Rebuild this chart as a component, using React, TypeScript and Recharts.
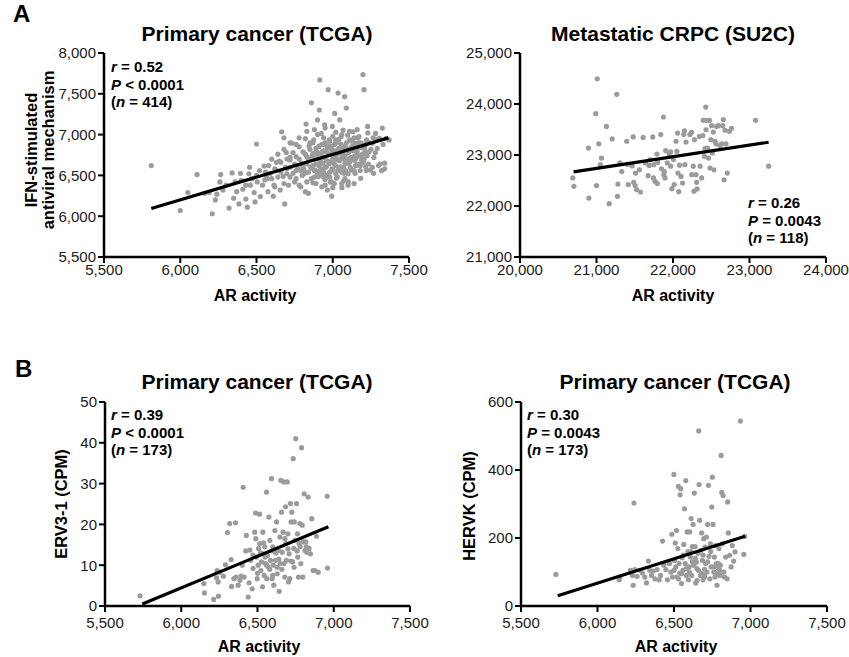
import { Scatter, ScatterChart, XAxis, YAxis } from "recharts";

// ---- panel A, left: TCGA, AR activity vs IFN-stimulated antiviral mechanism
const IFN_TCGA: [number, number][] = [
  [5810, 6620], [6000, 6070], [6050, 6290], [6110, 6510], [6210, 6030], [6190, 6290], [6240, 6270], [6260, 6420],
  [6265, 6510], [6320, 6100], [6340, 6530], [6360, 6420], [6385, 6150], [6395, 6525], [6410, 6330], [6430, 6210],
  [6440, 6110], [6455, 6600], [6460, 6380], [6485, 6290], [6490, 6175], [6500, 6885], [6505, 6420], [6525, 6240],
  [6550, 6615], [6555, 6445], [6565, 6485], [6575, 6300], [6590, 6525], [6610, 6245], [6615, 6380], [6630, 6565],
  [6650, 6675], [6655, 6320], [6665, 7035], [6675, 6485], [6685, 6150], [6695, 6780], [6700, 6585], [6710, 6380],
  [6720, 6690], [6730, 6895], [6740, 6525], [6750, 6420], [6760, 6730], [6770, 6585], [6780, 6850], [6790, 6360],
  [6795, 6650], [6805, 6790], [6815, 6525], [6825, 7130], [6830, 6730], [6840, 6280], [6845, 6860], [6855, 6605],
  [6860, 7390], [6865, 6740], [6870, 6410], [6875, 6935], [6885, 6565], [6895, 6790], [6900, 7180], [6905, 6485],
  [6910, 6855], [6912, 7300], [6915, 7670], [6920, 6650], [6925, 7015], [6928, 6360], [6932, 6730], [6936, 6485],
  [6940, 6875], [6947, 7120], [6954, 6605], [6958, 6790], [6965, 6320], [6970, 7550], [6976, 6935], [6980, 6670],
  [6984, 6420], [6990, 6855], [6993, 6245], [6997, 7100], [7002, 6565], [7008, 6770], [7013, 7260], [7019, 6935],
  [7024, 6465], [7028, 6690], [7035, 7510], [7039, 6830], [7046, 7180], [7050, 6605], [7054, 6975], [7059, 6400],
  [7063, 6750], [7068, 7055], [7074, 6525], [7078, 7465], [7083, 6855], [7089, 7325], [7094, 6650], [7098, 6995],
  [7102, 6420], [7107, 6790], [7111, 6935], [7118, 6690], [7122, 6565], [7128, 6855], [7133, 7035], [7139, 6730],
  [7146, 6525], [7150, 6895], [7159, 6770], [7166, 6625], [7172, 6975], [7177, 6855], [7183, 6465], [7190, 6690],
  [7198, 7735], [7205, 7550], [7209, 6830], [7216, 6605], [7222, 6935], [7229, 7100], [7238, 6790], [7246, 6565],
  [7260, 6895], [7268, 6525], [7281, 7015], [7292, 6830], [7307, 6955], [7325, 7080], [7340, 6650], [7350, 6955],
  [7369, 6935], [6780, 6700], [6800, 6620], [6820, 6760], [6840, 6680], [6850, 6820], [6860, 6590], [6870, 6900],
  [6880, 6710], [6890, 6640], [6900, 6760], [6910, 6860], [6920, 6700], [6930, 6580], [6940, 6800], [6950, 6900],
  [6960, 6680], [6970, 6760], [6980, 6540], [6990, 6820], [7000, 6700], [7010, 6880], [7020, 6620], [7030, 6760],
  [7040, 6940], [7050, 6700], [7060, 6820], [7070, 6600], [7080, 6740], [7090, 6900], [7100, 6780], [7110, 6660],
  [7120, 6840], [7130, 6720], [7140, 6960], [7150, 6620], [7160, 6800], [7170, 6900], [7180, 6740], [7190, 6840],
  [7200, 6660], [6950, 6450], [6990, 6420], [7030, 6480], [7070, 6430], [7000, 6350], [6960, 6500], [6920, 6520],
  [6880, 6480], [6840, 6540], [6800, 6500], [6760, 6460], [6720, 6600], [6700, 6520], [6740, 6780], [6700, 6700],
  [6660, 6660], [6620, 6580], [6600, 6460], [6560, 6540], [6540, 6380], [6640, 6760], [6680, 6820], [6760, 6880],
  [6820, 6950], [6900, 7000], [6940, 6960], [6980, 6920], [7020, 7030], [6870, 6620], [6910, 6620], [6930, 6880],
  [6970, 6860], [7010, 6800], [7040, 6580], [7080, 6650], [7120, 6720], [7160, 6880], [7210, 6780], [7240, 6900],
  [7270, 6720], [7300, 6620], [7320, 6560], [7340, 6580], [7220, 6560], [7180, 6560], [7140, 6400], [7100, 6380],
  [7060, 6350], [6780, 6380], [6820, 6300], [6760, 6560], [6720, 6480], [6680, 6400], [6640, 6480],
  [6810, 6580], [6830, 6640], [6850, 6700], [6870, 6770], [6890, 6830], [6905, 6700], [6915, 6560], [6925, 6780],
  [6935, 6650], [6945, 6720], [6955, 6600], [6965, 6840], [6975, 6640], [6985, 6760], [6995, 6580], [7005, 6650],
  [7015, 6720], [7025, 6900], [7035, 6560], [7045, 6680], [7055, 6880], [7065, 6780], [7075, 6700], [7085, 6560],
  [7095, 6820], [7105, 6700], [7115, 6600], [7125, 6920], [7135, 6800], [7145, 6680], [7155, 6720], [7165, 6960],
  [7175, 6640], [7185, 6900], [7195, 6760], [7205, 6700], [7215, 6880], [7225, 6740], [7235, 6640], [7250, 6820],
  [7265, 6960], [7280, 6780], [6850, 6900], [6880, 6560], [6900, 6520], [6940, 6540], [6980, 6480], [7020, 6520],
  [7060, 6540], [7100, 6520], [7140, 6560], [7180, 6620], [6950, 6380], [7010, 6400], [7080, 6460], [6890, 6400],
  [6860, 6460], [6830, 6420], [6790, 6560], [6750, 6640], [6720, 6720], [6690, 6600], [6660, 6540], [6630, 6660],
  [6600, 6700], [6580, 6620], [6520, 6560], [6500, 6500], [6470, 6460], [6450, 6520], [6430, 6380], [6400, 6440],
  [6370, 6300], [6350, 6220], [6300, 6380], [6280, 6320], [6230, 6200], [6160, 6280], [6620, 6360], [6570, 6460],
  [6680, 6960], [6720, 6900], [6780, 6960], [6830, 7040], [6880, 7060], [6950, 7080], [7000, 6980], [7060, 7000],
  [7110, 7040], [7160, 7060], [7230, 7020], [7290, 6940], [7330, 6880], [7310, 6640], [7260, 6600],
];
const IFN_TCGA_FIT: [number, number][] = [[5810, 6095], [7365, 6960]];

// ---- panel A, right: SU2C metastatic CRPC
const IFN_SU2C: [number, number][] = [
  [20690, 22550], [20705, 22385], [20895, 23135], [20900, 22155], [20990, 23810], [21010, 24495], [21030, 23220],
  [21000, 22400], [21065, 22940], [21050, 22810], [21130, 23560], [21165, 22045], [21205, 23315], [21265, 24190],
  [21280, 22430], [21275, 22190], [21305, 22845], [21330, 22675], [21395, 23270], [21405, 22815], [21415, 22420],
  [21465, 22785], [21485, 22465], [21505, 22400], [21510, 22645], [21480, 23355], [21525, 22320], [21575, 22275],
  [21560, 22710], [21610, 23345], [21640, 22845], [21675, 22595], [21690, 22795], [21700, 22910], [21735, 23355],
  [21745, 22550], [21750, 22810], [21765, 22485], [21790, 23020], [21800, 22855], [21795, 22440], [21840, 23400],
  [21850, 22730], [21875, 23745], [21880, 22615], [21895, 22550], [21885, 22680], [21905, 23085], [21925, 22845],
  [21950, 23020], [21970, 22780], [21968, 23060], [21985, 22340], [22005, 22910], [22015, 22420], [22040, 23270],
  [22050, 23070], [22060, 23430], [22065, 22645], [22075, 22280], [22085, 22800], [22105, 22580], [22125, 22450],
  [22140, 23400], [22150, 23475], [22155, 22810], [22170, 23255], [22220, 23400], [22245, 22615], [22242, 23445],
  [22265, 22780], [22275, 22290], [22280, 23300], [22300, 22615], [22310, 22465], [22315, 22335], [22345, 23365],
  [22355, 22780], [22375, 22550], [22390, 23380], [22395, 23680], [22410, 22975], [22420, 23130], [22428, 23940],
  [22432, 23495], [22440, 23680], [22452, 23135], [22465, 22940], [22478, 23680], [22483, 22745], [22495, 23300],
  [22505, 23575], [22515, 23040], [22527, 23450], [22535, 22710], [22550, 23270], [22562, 23220], [22570, 23560],
  [22592, 23575], [22615, 23185], [22636, 23220], [22650, 23575], [22658, 23695], [22668, 22515], [22680, 23485],
  [22693, 23220], [22710, 22645], [22736, 23465], [22765, 23525], [23080, 23680], [23250, 22780],
];
const IFN_SU2C_FIT: [number, number][] = [[20700, 22670], [23250, 23250]];

// ---- panel B, left: ERV3-1
const ERV3: [number, number][] = [
  [5730, 2.5], [6148, 5.5], [6152, 3.2], [6213, 1.6], [6244, 2.4], [6231, 6.9], [6242, 5.9], [6235, 8.7],
  [6252, 8.3], [6276, 7.3], [6303, 18.0], [6318, 20.2], [6356, 20.4], [6290, 10.1], [6327, 11.4], [6330, 4.8],
  [6345, 6.7], [6359, 7.1], [6373, 5.1], [6385, 6.3], [6392, 7.3], [6406, 29.1], [6412, 7.1], [6423, 13.5],
  [6427, 17.3], [6439, 2.2], [6445, 5.7], [6456, 11.2], [6465, 4.2], [6471, 9.2], [6482, 18.1], [6487, 22.8],
  [6489, 16.5], [6493, 12.0], [6498, 6.7], [6504, 10.0], [6507, 14.1], [6513, 22.5], [6515, 15.3], [6522, 8.7],
  [6526, 10.8], [6533, 4.7], [6535, 18.1], [6537, 12.8], [6544, 7.5], [6548, 14.5], [6553, 10.4], [6559, 27.9],
  [6561, 6.7], [6566, 12.4], [6570, 9.6], [6575, 21.8], [6581, 16.1], [6585, 11.2], [6592, 31.2], [6596, 6.7],
  [6598, 13.5], [6603, 10.0], [6607, 5.1], [6614, 18.5], [6618, 11.2], [6625, 20.6], [6629, 7.9], [6636, 13.6],
  [6642, 3.6], [6647, 16.9], [6649, 10.4], [6653, 30.8], [6658, 23.0], [6662, 13.2], [6668, 18.1], [6672, 30.4],
  [6674, 10.4], [6679, 7.1], [6684, 24.3], [6686, 15.3], [6690, 11.2], [6695, 30.4], [6699, 17.7], [6703, 5.9],
  [6707, 12.8], [6712, 6.7], [6716, 25.1], [6720, 20.6], [6725, 23.0], [6730, 10.8], [6734, 36.1], [6738, 14.1],
  [6741, 20.6], [6747, 16.1], [6751, 41.0], [6756, 25.1], [6762, 17.7], [6764, 12.0], [6769, 7.1], [6773, 15.3],
  [6778, 20.2], [6784, 10.4], [6789, 38.8], [6793, 19.8], [6797, 7.1], [6800, 15.7], [6806, 27.5], [6811, 13.6],
  [6817, 15.7], [6823, 13.2], [6832, 26.7], [6838, 14.1], [6847, 12.8], [6856, 21.4], [6865, 8.7], [6876, 8.7],
  [6887, 17.1], [6898, 8.3], [6957, 26.9], [6959, 9.3], [6520, 13.0], [6550, 12.0], [6580, 9.0], [6600, 14.5],
  [6640, 11.5], [6660, 9.0], [6700, 14.0], [6720, 11.0], [6760, 13.5], [6780, 14.5], [6500, 8.0], [6470, 12.5],
  [6540, 15.5], [6620, 13.0], [6680, 16.5], [6740, 9.5], [6820, 14.5], [6450, 13.7], [6400, 10.0], [6560, 10.0],
  [6600, 7.5], [6630, 9.5],
];
const ERV3_FIT: [number, number][] = [[5745, 0.5], [6965, 19.4]];

// ---- panel B, right: HERVK
const HERVK: [number, number][] = [
  [5728, 93], [6238, 303], [6142, 77], [6146, 85], [6233, 61], [6215, 105], [6228, 90], [6244, 107],
  [6259, 87], [6277, 105], [6294, 97], [6309, 85], [6320, 68], [6333, 132], [6342, 105], [6353, 90],
  [6364, 103], [6375, 80], [6390, 107], [6403, 77], [6412, 90], [6425, 191], [6434, 120], [6447, 107],
  [6457, 77], [6470, 125], [6479, 100], [6486, 211], [6490, 85], [6499, 387], [6503, 134], [6508, 185],
  [6512, 115], [6516, 222], [6520, 85], [6525, 169], [6529, 352], [6533, 125], [6538, 97], [6540, 327],
  [6544, 345], [6549, 66], [6553, 142], [6559, 105], [6564, 181], [6568, 286], [6573, 125], [6577, 369],
  [6581, 90], [6586, 218], [6590, 159], [6594, 77], [6599, 115], [6603, 218], [6607, 144], [6612, 257],
  [6616, 90], [6620, 175], [6625, 240], [6629, 120], [6633, 332], [6638, 175], [6642, 68], [6646, 129],
  [6651, 75], [6662, 515], [6664, 357], [6657, 155], [6660, 105], [6668, 252], [6673, 90], [6677, 164],
  [6681, 215], [6686, 134], [6690, 77], [6694, 198], [6699, 85], [6703, 173], [6707, 125], [6712, 203],
  [6716, 100], [6720, 240], [6725, 355], [6729, 146], [6734, 80], [6738, 183], [6742, 115], [6747, 291],
  [6751, 379], [6755, 240], [6760, 115], [6764, 144], [6768, 85], [6773, 178], [6777, 125], [6781, 61],
  [6785, 113], [6790, 125], [6794, 169], [6799, 105], [6803, 120], [6808, 443], [6812, 334], [6816, 183],
  [6821, 325], [6825, 100], [6829, 85], [6838, 144], [6847, 80], [6851, 306], [6855, 215], [6864, 149],
  [6873, 115], [6881, 178], [6890, 132], [6899, 159], [6934, 544], [6956, 152], [6962, 205], [6500, 105],
  [6550, 95], [6600, 100], [6620, 130], [6650, 110], [6680, 95], [6700, 108], [6720, 130], [6760, 100],
  [6780, 95], [6800, 90], [6560, 150], [6610, 160], [6690, 150], [6740, 160], [6530, 80], [6580, 110],
  [6640, 140], [6700, 90],
];
const HERVK_FIT: [number, number][] = [[5740, 30], [6965, 205]];

const AR_TICKS = [5500, 6000, 6500, 7000, 7500];
const SU2C_X_TICKS = [20000, 21000, 22000, 23000, 24000];
const IFN_TCGA_Y_TICKS = [5500, 6000, 6500, 7000, 7500, 8000];
const IFN_SU2C_Y_TICKS = [21000, 22000, 23000, 24000, 25000];
const ERV3_Y_TICKS = [0, 10, 20, 30, 40, 50];
const HERVK_Y_TICKS = [0, 200, 400, 600];

const FONT = "Arial, 'Liberation Sans', Helvetica, sans-serif";
const fmt = (v: number) => v.toLocaleString("en-US");
const tick = { fontSize: 15, fill: "#1a1a1a", fontFamily: FONT };
const axisLine = { stroke: "#000", strokeWidth: 2.5 };
const tickLine = { stroke: "#000", strokeWidth: 2 };

const Dot = (p: any) => <circle cx={p.cx} cy={p.cy} r={2.6} fill="#9b9b9b" />;
const NoDot = () => <g />;

function Panel(props: {
  x0: number; x1: number; y0: number; y1: number; xGap: number;
  pts: [number, number][]; fit: [number, number][];
  xTicks: number[]; yTicks: number[];
}) {
  const { x0, x1, y0, y1, xGap, pts, fit, xTicks, yTicks } = props;
  const data = pts.map(([x, y]) => ({ x, y }));
  const line = fit.map(([x, y]) => ({ x, y }));
  const xd: [number, number] = [xTicks[0], xTicks[xTicks.length - 1]];
  const yd: [number, number] = [yTicks[0], yTicks[yTicks.length - 1]];
  return (
    <div style={{ position: "absolute", left: x0 - 70, top: y0 - 10 }}>
      <ScatterChart width={x1 - x0 + 100} height={y1 - y0 + 50} margin={{ top: 10, right: 30, bottom: 0, left: 10 }}>
        <XAxis type="number" dataKey="x" domain={xd} ticks={xTicks} interval={0} allowDataOverflow height={40}
          tickFormatter={fmt} tick={tick} tickSize={6} tickMargin={xGap} axisLine={axisLine} tickLine={tickLine} />
        <YAxis type="number" dataKey="y" domain={yd} ticks={yTicks} interval={0} allowDataOverflow width={60}
          tickFormatter={fmt} tick={tick} tickSize={6} axisLine={axisLine} tickLine={tickLine} />
        <Scatter data={data} shape={Dot} isAnimationActive={false} />
        <Scatter data={line} shape={NoDot} line={{ stroke: "#000", strokeWidth: 3.2 }} isAnimationActive={false} />
      </ScatterChart>
    </div>
  );
}

function Stats({ x, y, r, p, n }: { x: number; y: number; r: string; p: string; n: string }) {
  return (
    <text x={x} y={y} fontSize={15} fontWeight="bold" fill="#000" fontFamily={FONT}>
      <tspan x={x} fontStyle="italic">r</tspan><tspan> = {r}</tspan>
      <tspan x={x} dy={17.5} fontStyle="italic">P</tspan><tspan> {p}</tspan>
      <tspan x={x} dy={17.5}>(</tspan><tspan fontStyle="italic">n</tspan><tspan> = {n})</tspan>
    </text>
  );
}

export default function App() {
  const title = { fontSize: 21, fontWeight: "bold" as const, fontFamily: FONT, textAnchor: "middle" as const };
  const axTitle = { fontSize: 16, fontWeight: "bold" as const, fontFamily: FONT, textAnchor: "middle" as const };
  const yTitle = { ...axTitle, fontSize: 16.5 };
  return (
    <div style={{ position: "absolute", left: 0, top: 0, width: 849, height: 657, background: "#fff", overflow: "hidden" }}>
      <Panel x0={104} x1={409} y0={53} y1={257} xGap={1.5} pts={IFN_TCGA} fit={IFN_TCGA_FIT} xTicks={AR_TICKS} yTicks={IFN_TCGA_Y_TICKS} />
      <Panel x0={520} x1={826} y0={53} y1={257} xGap={1.5} pts={IFN_SU2C} fit={IFN_SU2C_FIT} xTicks={SU2C_X_TICKS} yTicks={IFN_SU2C_Y_TICKS} />
      <Panel x0={105} x1={410} y0={402} y1={606} xGap={5} pts={ERV3} fit={ERV3_FIT} xTicks={AR_TICKS} yTicks={ERV3_Y_TICKS} />
      <Panel x0={521} x1={827} y0={402} y1={606} xGap={5} pts={HERVK} fit={HERVK_FIT} xTicks={AR_TICKS} yTicks={HERVK_Y_TICKS} />
      <svg width={849} height={657} style={{ position: "absolute", left: 0, top: 0, pointerEvents: "none" }}>
        <text x={13} y={22} fontSize={24} fontWeight="bold" fontFamily={FONT}>A</text>
        <text x={15} y={377} fontSize={24} fontWeight="bold" fontFamily={FONT}>B</text>

        <text x={257} y={41} {...title}>Primary cancer (TCGA)</text>
        <text x={673} y={41} {...title}>Metastatic CRPC (SU2C)</text>
        <text x={257} y={389} {...title}>Primary cancer (TCGA)</text>
        <text x={675} y={389} {...title}>Primary cancer (TCGA)</text>

        <text x={255} y={301} {...axTitle}>AR activity</text>
        <text x={673} y={301} {...axTitle}>AR activity</text>
        <text x={259} y={652} {...axTitle}>AR activity</text>
        <text x={676} y={652} {...axTitle}>AR activity</text>

        <text transform="translate(37,150) rotate(-90)" {...yTitle}>IFN-stimulated</text>
        <text transform="translate(54,150) rotate(-90)" {...yTitle}>antiviral mechanism</text>
        <text transform="translate(67,504) rotate(-90)" {...yTitle}>ERV3-1 (CPM)</text>
        <text transform="translate(475,506) rotate(-90)" {...yTitle}>HERVK (CPM)</text>

        <Stats x={111} y={72} r="0.52" p="< 0.0001" n="414" />
        <Stats x={748} y={208} r="0.26" p="= 0.0043" n="118" />
        <Stats x={111} y={420} r="0.39" p="< 0.0001" n="173" />
        <Stats x={527} y={420} r="0.30" p="= 0.0043" n="173" />
      </svg>
    </div>
  );
}
